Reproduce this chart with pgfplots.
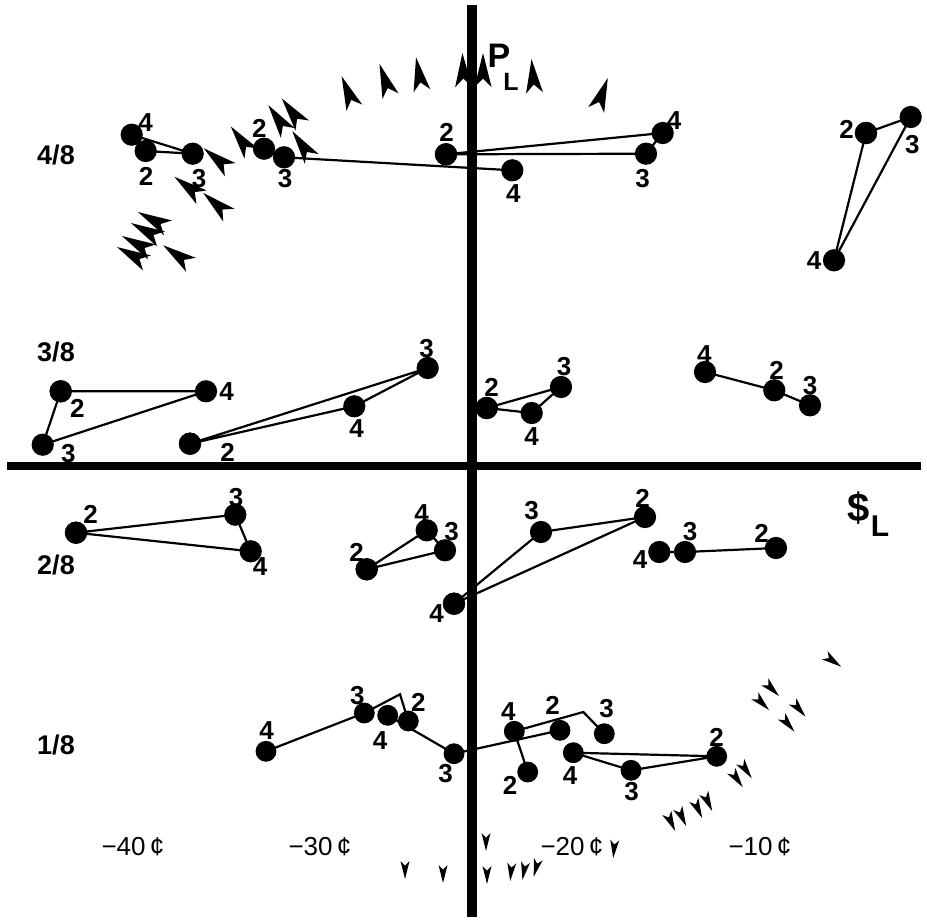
\documentclass[border=0pt]{standalone}
\usepackage{pgfplots}
\pgfplotsset{compat=1.18}
\usepackage{fontspec}
\setmainfont{Liberation Sans}
\pgfdeclareplotmark{ahead}{%
  \pgfpathmoveto{\pgfpoint{\pgfplotmarksize}{0pt}}%
  \pgfpathlineto{\pgfpoint{-\pgfplotmarksize}{0.5\pgfplotmarksize}}%
  \pgfpathlineto{\pgfpoint{-0.5\pgfplotmarksize}{0pt}}%
  \pgfpathlineto{\pgfpoint{-\pgfplotmarksize}{-0.5\pgfplotmarksize}}%
  \pgfpathclose\pgfusepathqfill}
\pgfplotsset{
  arrowset/.style={scatter, only marks, mark=ahead, mark size=#1,
    point meta=\thisrow{a},
    scatter/use mapped color={draw=black,fill=black},
    visualization depends on={\thisrow{a}\as\ang},
    scatter/@pre marker code/.append style={/tikz/rotate=\ang}},
  grp/.style={black, line width=1.1pt, mark=*, mark size=5pt, mark options={solid,fill=black}},
  seg/.style={black, line width=1.1pt, no marks},
}
\newcommand{\lab}[3]{\node[font=\fontsize{13}{15}\selectfont\bfseries] at (axis cs:#1,#2) {#3};}
\newcommand{\rowlab}[2]{\node[font=\fontsize{13.5}{15}\selectfont\bfseries] at (axis cs:56,#1) {#2};}
\newcommand{\ticklab}[2]{\node[font=\fontsize{13}{15}\selectfont] at (axis cs:#1,845) {#2};}
\begin{document}
\begin{tikzpicture}
\begin{axis}[
  width=463.5pt, height=457.5pt, scale only axis,
  xmin=0, xmax=927, ymin=0, ymax=915, y dir=reverse,
  axis lines=none, clip=false,
]
\addplot[draw=none] coordinates {(0,0) (927,915)};
% crosshair axes
\addplot[black, line width=5pt] coordinates {(472,3) (472,915)};
\addplot[black, line width=4.2pt] coordinates {(7,464) (921,464)};

% ---------- 4/8 row ----------
\addplot[grp] coordinates {(131.7,132.7) (192.7,151.7) (145.7,149)};
\addplot[grp] coordinates {(264,146.7) (284,155.3) (512.3,168.3)};
\addplot[grp] coordinates {(446,152.3) (646,151.7) (662.7,131) (446,152.3)};
\addplot[grp] coordinates {(866,131) (910.7,115) (834,258.3) (866,131)};
% ---------- 3/8 row ----------
\addplot[grp] coordinates {(60.7,389.3) (206,389.3) (42.7,442.7) (60.7,389.3)};
\addplot[grp] coordinates {(190,441.7) (354.3,404.3) (427.7,366) (190,441.7)};
\addplot[grp] coordinates {(486.7,406) (531.7,411) (561,385) (486.7,406)};
\addplot[grp] coordinates {(705,370) (774.3,388.3) (810,403.3)};
% ---------- 2/8 row ----------
\addplot[grp] coordinates {(76,530.7) (235.3,512.7) (250.7,549.3) (76,530.7)};
\addplot[grp] coordinates {(366.7,567.3) (426.7,528.3) (445,548.3) (366.7,567.3)};
\addplot[grp] coordinates {(454,601.7) (541,530) (645,515) (454,601.7)};
\addplot[grp] coordinates {(659.3,550) (685,550) (776,546)};
% ---------- 1/8 row ----------
\addplot[seg] coordinates {(266,749.3) (364.3,711) (400,692.3) (408.3,719)};
\addplot[seg] coordinates {(387.7,713.3) (454,751.7) (560,728.3)};
\addplot[seg] coordinates {(527.7,770) (514.3,729.3) (583.3,710) (604.3,731.7)};
\addplot[seg] coordinates {(573.3,750.7) (631,768.3) (716.7,754.3) (573.3,750.7)};
\addplot[only marks, mark=*, mark size=5pt, black] coordinates {
  (266,749.3) (364.3,711) (408.3,719) (387.7,713.3) (454,751.7) (560,728.3)
  (514.3,729.3) (604.3,731.7) (527.7,770) (573.3,750.7) (631,768.3) (716.7,754.3)};

% ---------- arrowheads ----------
\addplot[arrowset=8.5pt] table {
x y a
348 90 112
385 78 109
419 72 100
463 68 92
483 68 90
533 74 95
602 92 70
241 138 127
278 117 125
292 110 127
302 143 125
217 157 141
188 185 143
216 202 139
153 218 152
146 229 152
137 242 152
132 253 152
177 253 145
};
\addplot[arrowset=5pt] table {
x y a
833 659 -35
772 687 -45
762 701 -45
799 707 -50
788 722 -50
746 768 -55
737 777 -55
671 820 -65
682 815 -65
698 807 -65
708 800 -65
};
\addplot[arrowset=4.5pt] table {
x y a
486 840 -90
614 847 -95
405 868 -90
443 872 -90
487 873 -90
511 870 -95
524 869 -100
536 866 -105
};

% ---------- point labels ----------
\lab{145.7}{121}{4}\lab{146}{174}{2}\lab{199}{176.7}{3}
\lab{259.3}{126.7}{2}\lab{285}{176.7}{3}\lab{513.3}{191.7}{4}
\lab{446.7}{130}{2}\lab{642.7}{176.7}{3}\lab{674}{118.3}{4}
\lab{846.7}{127.7}{2}\lab{912.3}{142.7}{3}\lab{814}{259}{4}
\lab{77.3}{406}{2}\lab{226.7}{389.3}{4}\lab{68.3}{451.7}{3}
\lab{227.7}{450}{2}\lab{356.7}{426.7}{4}\lab{426.7}{346.7}{3}
\lab{491.7}{385}{2}\lab{531.7}{435}{4}\lab{564}{365}{3}
\lab{704.3}{352.7}{4}\lab{776.7}{368.3}{2}\lab{810}{383.3}{3}
\lab{90.7}{512.7}{2}\lab{236}{496}{3}\lab{260}{565}{4}
\lab{356.7}{550}{2}\lab{421.7}{511.7}{4}\lab{451.7}{530}{3}
\lab{436.7}{611.7}{4}\lab{531.7}{508.3}{3}\lab{642.7}{496}{2}
\lab{640}{557.3}{4}\lab{690}{529.3}{3}\lab{761.7}{531.7}{2}
\lab{266.7}{728.3}{4}\lab{357.3}{693.3}{3}\lab{418.3}{700}{2}
\lab{380}{738.3}{4}\lab{445.7}{771.7}{3}
\lab{508.3}{710}{4}\lab{552.7}{703.3}{2}\lab{606.7}{706.7}{3}\lab{510}{783.3}{2}
\lab{570}{773.3}{4}\lab{631.7}{790}{3}\lab{716.7}{735}{2}

% ---------- row labels ----------
\rowlab{153}{4/8}
\rowlab{350}{3/8}
\rowlab{563}{2/8}
\rowlab{743}{1/8}
% ---------- tick labels ----------
\ticklab{133}{−40\,¢}
\ticklab{320}{−30\,¢}
\ticklab{572}{−20\,¢}
\ticklab{760}{−10\,¢}
% ---------- axis names ----------
\node[font=\fontsize{17}{19}\selectfont\bfseries] at (axis cs:499,54) {P};
\node[font=\fontsize{12.5}{14}\selectfont\bfseries] at (axis cs:511,80) {L};
\node[font=\fontsize{20}{22}\selectfont\bfseries] at (axis cs:859,506) {\$};
\node[font=\fontsize{15}{17}\selectfont\bfseries] at (axis cs:880,524) {L};
\end{axis}
\end{tikzpicture}
\end{document}
